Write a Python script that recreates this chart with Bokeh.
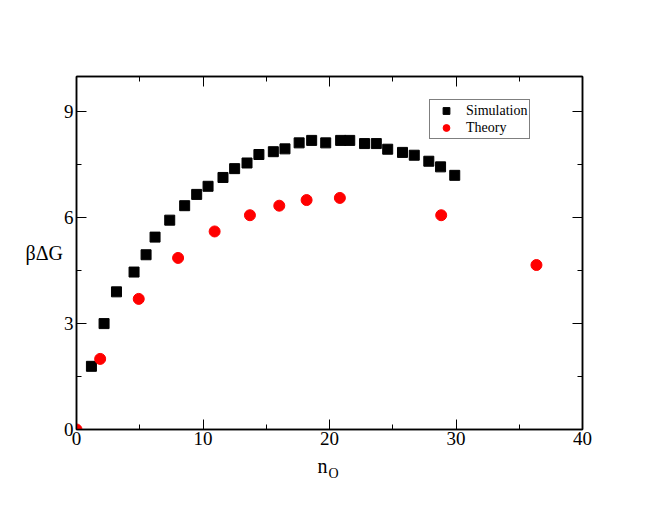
from bokeh.plotting import figure
from bokeh.models import (FixedTicker, LinearAxis, Range1d, Label, Legend, LegendItem,
                          ColumnDataSource)
from bokeh.embed import file_html
from bokeh.resources import INLINE

# ---- data ----
sim_x = [1.18, 2.18, 3.16, 4.55, 5.5, 6.21, 7.37, 8.55, 9.5, 10.4, 11.58, 12.5, 13.48,
         14.42, 15.56, 16.48, 17.6, 18.59, 19.7, 20.88, 21.6, 22.77, 23.7, 24.6, 25.77,
         26.7, 27.85, 28.78, 29.9]
sim_y = [1.79, 3.0, 3.90, 4.46, 4.95, 5.45, 5.93, 6.34, 6.66, 6.89, 7.14, 7.39, 7.55,
         7.79, 7.87, 7.95, 8.12, 8.19, 8.12, 8.19, 8.19, 8.10, 8.10, 7.94, 7.85,
         7.77, 7.60, 7.44, 7.20]
theo_x = [0.0, 1.87, 4.92, 8.03, 10.92, 13.71, 16.03, 18.19, 20.82, 28.83, 36.36]
theo_y = [0.0, 2.0, 3.70, 4.86, 5.61, 6.07, 6.34, 6.50, 6.56, 6.07, 4.66]

x_ticks = [0, 10, 20, 30, 40]
x_minor = [5, 15, 25, 35]
y_ticks = [0, 3, 6, 9]
y_minor = [1.5, 4.5, 7.5]

FONT = "Liberation Serif"

p = figure(width=638, height=497, output_backend="svg", toolbar_location=None,
           x_range=Range1d(0, 40), y_range=Range1d(0, 10),
           min_border_left=76, min_border_right=56, min_border_top=76, min_border_bottom=68,
           x_axis_location=None, y_axis_location=None)
p.grid.visible = False
p.outline_line_color = "black"
p.outline_line_width = 1.5
p.background_fill_color = "white"
p.border_fill_color = "white"


def style(ax, ticks, minor, labels=True):
    ax.ticker = FixedTicker(ticks=ticks, minor_ticks=minor)
    ax.axis_line_color = "black"
    ax.axis_line_width = 1.5
    ax.major_tick_in = 10
    ax.major_tick_out = 0
    ax.minor_tick_in = 5
    ax.minor_tick_out = 0
    ax.major_tick_line_width = 1
    ax.minor_tick_line_width = 1
    ax.major_tick_line_color = "black"
    ax.minor_tick_line_color = "black"
    ax.major_label_text_font = FONT
    ax.major_label_text_font_size = "19px"
    ax.major_label_text_color = "black" if labels else None
    ax.major_label_standoff = 2


xb = LinearAxis()
style(xb, x_ticks, x_minor)
p.add_layout(xb, "below")
xt = LinearAxis()
style(xt, x_ticks, x_minor, labels=False)
xt.major_label_text_font_size = "0px"
p.add_layout(xt, "above")

yl = LinearAxis(axis_label="βΔG")
style(yl, y_ticks, y_minor)
yl.major_label_standoff = 3
yl.axis_label_orientation = "horizontal"
yl.axis_label_text_font = FONT
yl.axis_label_text_font_size = "20px"
yl.axis_label_text_font_style = "normal"
yl.axis_label_text_color = "black"
yl.axis_label_standoff = -2
p.add_layout(yl, "left")
yr = LinearAxis()
style(yr, y_ticks, y_minor, labels=False)
yr.major_label_text_font_size = "0px"
p.add_layout(yr, "right")

sim_src = ColumnDataSource(dict(x=sim_x, y=sim_y))
theo_src = ColumnDataSource(dict(x=theo_x, y=theo_y))
r_sim = p.scatter("x", "y", source=sim_src, marker="square", size=10,
                  fill_color="black", line_color="black")
r_theo = p.scatter("x", "y", source=theo_src, marker="circle", size=11,
                   fill_color="red", line_color="red")

# x axis label n_O (placed in the panel below the axis)
p.add_layout(Label(x=19.06, y=-1.02, text="n", text_font=FONT, text_font_size="20px",
                   text_color="black", text_baseline="alphabetic", text_align="left"),
             "below")
p.add_layout(Label(x=19.93, y=-1.25, text="O", text_font=FONT, text_font_size="14px",
                   text_color="black", text_baseline="alphabetic", text_align="left"),
             "below")

legend = Legend(items=[LegendItem(label="Simulation", renderers=[r_sim]),
                       LegendItem(label="Theory", renderers=[r_theo])],
                location=(353, 290), label_text_font=FONT, label_text_font_size="14px",
                label_text_color="black",
                label_height=15, glyph_height=17, glyph_width=28, label_standoff=6,
                padding=2, spacing=0, margin=0, border_line_color="black",
                border_line_width=1, background_fill_alpha=1.0)
p.add_layout(legend, "center")

open("out.html", "w").write(file_html(p, INLINE))
